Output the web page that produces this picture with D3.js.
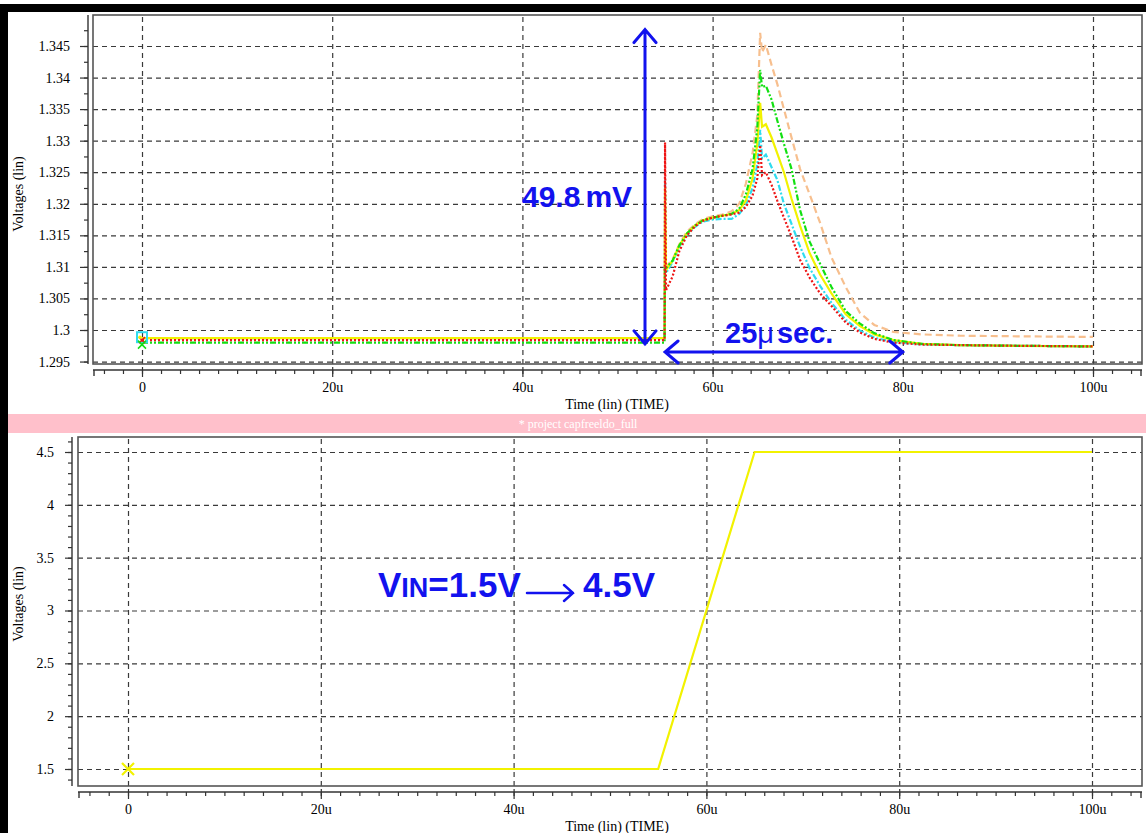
<!DOCTYPE html>
<html><head><meta charset="utf-8">
<script src="https://cdn.jsdelivr.net/npm/d3@7"></script>
<style>
html,body{margin:0;padding:0;background:#fff;}
svg{display:block;}
</style></head><body>
<svg id="chart" width="1146" height="833"></svg>
<script>
// ---------- data: output voltage transient (top panel) ----------
const timeTop = [0, 54.95, 55.0, 55.1, 55.8, 56.5, 57.3, 58.2, 59.0, 60.0, 61.0, 62.0, 62.8, 63.5, 64.2, 64.7,
  65.0, 65.2, 65.6, 66.2, 66.8, 67.5, 68.3, 69.2, 70.2, 71.3, 72.5, 74.0, 75.5, 77.0, 79.0, 82.0, 86.0, 92.0, 100];
const vOrange = [1.2987, 1.2987, 1.3100, 1.3100, 1.3112, 1.3136, 1.3156, 1.3168, 1.3176, 1.3180, 1.3183, 1.3188, 1.3200, 1.3232, 1.3280, 1.3340,
  1.3471, 1.3440, 1.3452, 1.3420, 1.3390, 1.3350, 1.3305, 1.3255, 1.3215, 1.3170, 1.3115, 1.3068, 1.3027, 1.3008, 1.2997, 1.2993, 1.2991, 1.2990, 1.2989];
const vGreen = [1.2980, 1.2980, 1.3100, 1.3098, 1.3110, 1.3134, 1.3153, 1.3166, 1.3174, 1.3178, 1.3181, 1.3184, 1.3192, 1.3215, 1.3255, 1.3320,
  1.3412, 1.3385, 1.3387, 1.3365, 1.3332, 1.3295, 1.3255, 1.3190, 1.3140, 1.3105, 1.3068, 1.3030, 1.3010, 1.2995, 1.2984, 1.2978, 1.2976, 1.2975, 1.2974];
const vYellow = [1.2987, 1.2987, 1.3225, 1.3095, 1.3110, 1.3134, 1.3153, 1.3166, 1.3174, 1.3178, 1.3181, 1.3184, 1.3190, 1.3205, 1.3240, 1.3295,
  1.3360, 1.3322, 1.3326, 1.3305, 1.3280, 1.3250, 1.3208, 1.3165, 1.3122, 1.3088, 1.3058, 1.3025, 1.3006, 1.2993, 1.2984, 1.2978, 1.2976, 1.2975, 1.2974];
const vCyan = [1.2987, 1.2987, 1.3238, 1.3090, 1.3108, 1.3132, 1.3151, 1.3164, 1.3172, 1.3175, 1.3176, 1.3176, 1.3184, 1.3198, 1.3225, 1.3262,
  1.3317, 1.3272, 1.3278, 1.3258, 1.3238, 1.3200, 1.3168, 1.3132, 1.3098, 1.3070, 1.3043, 1.3016, 1.2999, 1.2988, 1.2981, 1.2977, 1.2976, 1.2975, 1.2974];
const vRed = [1.2984, 1.2984, 1.3297, 1.3063, 1.3085, 1.3125, 1.3150, 1.3165, 1.3173, 1.3178, 1.3181, 1.3183, 1.3186, 1.3195, 1.3213, 1.3240,
  1.3293, 1.3245, 1.3250, 1.3230, 1.3205, 1.3178, 1.3148, 1.3111, 1.3083, 1.3058, 1.3038, 1.3012, 1.2996, 1.2986, 1.2980, 1.2977, 1.2976, 1.2975, 1.2974];

// ---------- data: input voltage step (bottom panel) ----------
const vinTime = [0, 55, 65, 100];
const vinValue = [1.5, 1.5, 4.5, 4.5];

// ---------- ticks ----------
const xTicks = [0, 20, 40, 60, 80, 100];
const xMinorTicks = d3.range(-4, 105, 2);
const yTicksTop = [1.295, 1.3, 1.305, 1.31, 1.315, 1.32, 1.325, 1.33, 1.335, 1.34, 1.345];
const yMinorTop = d3.range(1.2950, 1.3490, 0.0025);
const yTicksBottom = [1.5, 2, 2.5, 3, 3.5, 4, 4.5];
const yMinorBottom = d3.range(1.4, 4.61, 0.1);

// annotations
const dropLow = 1.2978, dropSize = 0.0498;   // 49.8 mV
const settleStart = 55, settleEnd = 80;       // 25 us

const svg = d3.select("#chart");
const W = 1146, H = 833;
svg.append("rect").attr("width", W).attr("height", H).attr("fill", "#fff");

const serif = "'Liberation Serif','Times New Roman',serif";
const sans = "'Liberation Sans',Arial,sans-serif";
const blue = "#1212ee";

// ---------- panel geometry ----------
const pTop = {left: 93, right: 1142, top: 15, bottom: 364, axisY: 88, axisX: 370};
const pBot = {left: 78, right: 1142, top: 437, bottom: 786, axisY: 72, axisX: 792};

const xTop = d3.scaleLinear().domain([0, 100]).range([142, 1093]);
const yTop = d3.scaleLinear().domain([1.3, 1.345]).range([330, 46]);
const xBot = d3.scaleLinear().domain([0, 100]).range([128, 1092]);
const yBot = d3.scaleLinear().domain([1.5, 4.5]).range([769, 452]);

function panel(p, x, y, yMajor, yMinor, yFmt, ySize, yPad) {
  const g = svg.append("g");
  // grid
  const gy = g.append("g").attr("transform", `translate(${p.left},0)`)
    .call(d3.axisLeft(y).tickValues(yMajor).tickSize(-(p.right - p.left)).tickFormat(""));
  gy.select(".domain").remove();
  const gx = g.append("g").attr("transform", `translate(0,${p.bottom})`)
    .call(d3.axisBottom(x).tickValues(xTicks).tickSize(-(p.bottom - p.top)).tickFormat(""));
  gx.select(".domain").remove();
  g.selectAll(".tick line").attr("stroke", "#3a3a3a").attr("stroke-width", 1.2).attr("stroke-dasharray", "5,4");
  // frame
  g.append("rect").attr("x", p.left).attr("y", p.top).attr("width", p.right - p.left).attr("height", p.bottom - p.top)
    .attr("fill", "none").attr("stroke", "#555").attr("stroke-width", 1.6);

  // y axis
  const ya = svg.append("g").attr("transform", `translate(${p.axisY},0)`);
  ya.append("g").call(d3.axisLeft(y).tickValues(yMinor.filter(v => y(v) >= p.top && y(v) <= p.bottom)).tickSize(4).tickFormat(""))
    .select(".domain").remove();
  ya.append("g").call(d3.axisLeft(y).tickValues(yMajor).tickSize(ySize).tickPadding(yPad).tickFormat(yFmt))
    .select(".domain").remove();
  ya.append("line").attr("x1", 0).attr("x2", 0).attr("y1", p.top).attr("y2", p.bottom).attr("stroke", "#333").attr("stroke-width", 1.4);

  // x axis
  const xa = svg.append("g").attr("transform", `translate(0,${p.axisX})`);
  xa.append("g").call(d3.axisBottom(x).tickValues(xMinorTicks.filter(v => x(v) >= p.left && x(v) <= p.right)).tickSize(4).tickFormat(""))
    .select(".domain").remove();
  const xm = xa.append("g").call(d3.axisBottom(x).tickValues(xTicks).tickSize(7).tickPadding(5).tickFormat(d => d === 0 ? "0" : d + "u"));
  xm.select(".domain").remove();
  xm.selectAll(".tick line").attr("y1", -3);
  xa.append("line").attr("x1", p.left).attr("x2", p.right).attr("y1", 0).attr("y2", 0).attr("stroke", "#333").attr("stroke-width", 1.4);
  xa.append("line").attr("x1", p.left + 1).attr("x2", p.left + 1).attr("y1", 0).attr("y2", 6).attr("stroke", "#333").attr("stroke-width", 1.4);
  xa.append("line").attr("x1", p.right - 1).attr("x2", p.right - 1).attr("y1", 0).attr("y2", 6).attr("stroke", "#333").attr("stroke-width", 1.4);

  svg.selectAll("text").attr("font-family", serif).attr("font-size", 14).attr("fill", "#000");
  ya.selectAll(".tick line").attr("stroke", "#333").attr("stroke-width", 1.2);
  xa.selectAll(".tick line").attr("stroke", "#333").attr("stroke-width", 1.2);

  // titles
  svg.append("text").attr("x", 617).attr("y", p.axisX + 39).attr("text-anchor", "middle")
    .attr("font-family", serif).attr("font-size", 14).text("Time (lin) (TIME)");
  return g;
}

const fmtTop = d => String(+d.toFixed(3));
panel(pTop, xTop, yTop, yTicksTop, yMinorTop, fmtTop, 8, 10);
panel(pBot, xBot, yBot, yTicksBottom, yMinorBottom, d => String(d), 7, 11);

svg.append("text").attr("transform", "translate(23,194) rotate(-90)").attr("text-anchor", "middle")
  .attr("font-family", serif).attr("font-size", 14).text("Voltages (lin)");
svg.append("text").attr("transform", "translate(23,604) rotate(-90)").attr("text-anchor", "middle")
  .attr("font-family", serif).attr("font-size", 14).text("Voltages (lin)");

// banner between panels
svg.append("rect").attr("x", 0).attr("y", 414).attr("width", W).attr("height", 19).attr("fill", "#ffc0cb");
svg.append("text").attr("x", 578).attr("y", 428).attr("text-anchor", "middle").attr("fill", "#fff")
  .attr("font-family", serif).attr("font-size", 12).text("* project capfreeldo_full");

// ---------- traces ----------
const topSeries = [
  {v: vOrange, color: "#f7bf8e", dash: "7,4"},
  {v: vCyan, color: "#2fdcef", dash: "6,2,2,2"},
  {v: vYellow, color: "#f2f200", dash: null},
  {v: vGreen, color: "#12e012", dash: "6,2,2,2,2,2"},
  {v: vRed, color: "#ee1515", dash: "2,2"}
];
const lineTop = d3.line().x((d, i) => xTop(timeTop[i])).y(d => yTop(d));
const traces = svg.append("g");
topSeries.forEach(s => {
  traces.append("path").attr("d", lineTop(s.v)).attr("fill", "none").attr("stroke", s.color)
    .attr("stroke-width", 2.2).attr("stroke-dasharray", s.dash);
});
// start markers
const m0x = xTop(0);
traces.append("rect").attr("x", m0x - 5).attr("y", yTop(vCyan[0]) - 6).attr("width", 10).attr("height", 10)
  .attr("fill", "none").attr("stroke", "#2fdcef").attr("stroke-width", 2);
traces.append("path").attr("d", `M${m0x - 3},${yTop(vRed[0]) - 3}l6,6M${m0x + 3},${yTop(vRed[0]) - 3}l-6,6`)
  .attr("stroke", "#ee1515").attr("stroke-width", 1.5);
traces.append("path").attr("d", `M${m0x - 4},${yTop(vGreen[0]) - 2}l8,8M${m0x + 4},${yTop(vGreen[0]) - 2}l-8,8`)
  .attr("stroke", "#12e012").attr("stroke-width", 1.5);
traces.append("circle").attr("cx", m0x - 2).attr("cy", yTop(vYellow[0]) - 1).attr("r", 1.8).attr("fill", "#f2f200");

const lineBot = d3.line().x((d, i) => xBot(vinTime[i])).y(d => yBot(d));
svg.append("path").attr("d", lineBot(vinValue)).attr("fill", "none").attr("stroke", "#f2f200").attr("stroke-width", 2.2);
const bx = xBot(vinTime[0]), by = yBot(vinValue[0]);
svg.append("path").attr("d", `M${bx - 6},${by - 6}L${bx + 6},${by + 6}M${bx + 6},${by - 6}L${bx - 6},${by + 6}`)
  .attr("stroke", "#f2f200").attr("stroke-width", 2.2);

// ---------- annotations ----------
const ann = svg.append("g").attr("stroke", blue).attr("fill", "none").attr("stroke-width", 3).attr("stroke-linecap", "round");
const ax = 645, ay1 = yTop(dropLow + dropSize), ay2 = yTop(dropLow);
ann.append("path").attr("d", `M${ax},${ay1}V${ay2}M${ax - 11},${ay1 + 13}L${ax},${ay1}L${ax + 11},${ay1 + 13}M${ax - 11},${ay2 - 13}L${ax},${ay2}L${ax + 11},${ay2 - 13}`);
const hx1 = xTop(settleStart), hx2 = xTop(settleEnd), hy = 352;
ann.append("path").attr("d", `M${hx1},${hy}H${hx2}M${hx1 + 13},${hy - 11}L${hx1},${hy}L${hx1 + 13},${hy + 11}M${hx2 - 13},${hy - 11}L${hx2},${hy}L${hx2 - 13},${hy + 11}`);
ann.append("path").attr("d", "M527,593H573M564,585L573,593L564,601").attr("stroke-width", 2.5);

const t1 = svg.append("text").attr("x", 522).attr("y", 207).attr("fill", blue).attr("font-family", sans)
  .attr("font-weight", "bold").attr("font-size", 30);
t1.append("tspan").text("49.8");
t1.append("tspan").attr("dx", 5).text("mV");

const t2 = svg.append("text").attr("x", 725).attr("y", 343).attr("fill", blue).attr("font-family", sans)
  .attr("font-weight", "bold").attr("font-size", 29);
t2.append("tspan").text("25");
t2.append("tspan").attr("font-weight", "normal").text("μ");
t2.append("tspan").attr("dx", 3).text("sec.");

const t3 = svg.append("text").attr("x", 378).attr("y", 597).attr("fill", blue).attr("font-family", sans)
  .attr("font-weight", "bold").attr("font-size", 35);
t3.append("tspan").text("V");
t3.append("tspan").attr("font-size", 27).text("IN");
t3.append("tspan").text("=1.5V");
svg.append("text").attr("x", 583).attr("y", 597).attr("fill", blue).attr("font-family", sans)
  .attr("font-weight", "bold").attr("font-size", 35).text("4.5V");

// ---------- outer frame ----------
svg.append("rect").attr("x", 0).attr("y", 4).attr("width", W).attr("height", 8).attr("fill", "#000");
svg.append("rect").attr("x", 0).attr("y", 4).attr("width", 8).attr("height", H).attr("fill", "#000");
</script>
</body></html>
